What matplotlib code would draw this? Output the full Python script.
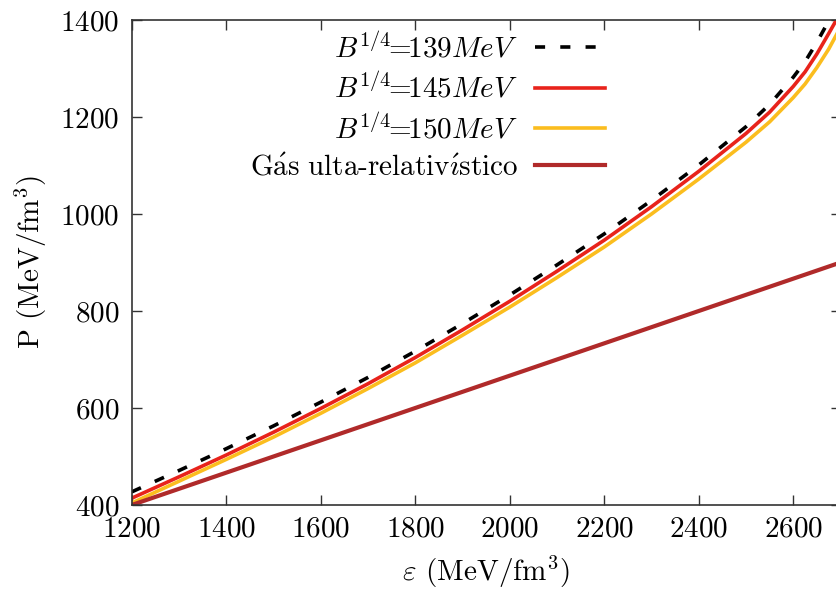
import matplotlib
matplotlib.use("Agg")
import matplotlib.pyplot as plt

plt.rcParams['font.family'] = 'serif'
plt.rcParams['font.serif'] = ['cmr10']
plt.rcParams['mathtext.fontset'] = 'cm'
plt.rcParams['axes.formatter.use_mathtext'] = True

# Energy density (MeV/fm^3)
eps_grid = [1200, 1300, 1400, 1500, 1600, 1700, 1800, 1900, 2000, 2100,
            2200, 2300, 2400, 2500, 2550, 2600, 2625, 2650, 2675, 2700]
# Pressure (MeV/fm^3)
p_139 = [427, 471, 516, 563, 612, 663, 717, 774, 833, 895,
         959, 1028, 1101, 1180, 1226, 1282, 1314, 1354, 1398, 1445]
p_145 = [414, 458, 503, 550, 599, 650, 704, 761, 820, 882,
         946, 1015, 1088, 1166, 1210, 1263, 1293, 1330, 1372, 1415]
p_150 = [404, 449, 494, 540, 589, 640, 693, 750, 808, 869,
         932, 1000, 1072, 1148, 1190, 1240, 1268, 1302, 1340, 1385]
eps_ur = [1200, 1800, 2400, 2700]
p_ur = [400, 600, 800, 900]

labels = [r'$B^{1/4}\!\!=\!\!139MeV$', r'$B^{1/4}\!\!=\!\!145MeV$',
          r'$B^{1/4}\!\!=\!\!150MeV$',
          r'$\mathrm{G\acute{a}s\ ulta}$-$\mathrm{relativ\acute{\imath}stico}$']

fig = plt.figure(figsize=(8.37, 5.97), dpi=100)
ax = fig.add_axes([131.7/837, 92/597, (840.5-131.7)/837, (505-20)/597])

lw = 2.6
ax.plot(eps_grid, p_139, color='black', lw=lw, dashes=(2.8, 4.2), label=labels[0])
ax.plot(eps_grid, p_145, color='#e8231b', lw=lw, label=labels[1])
ax.plot(eps_grid, p_150, color='#fbbd1e', lw=lw, label=labels[2])
ax.plot(eps_ur, p_ur, color='#b02a2a', lw=lw + 0.4, label=labels[3])

ax.set_xlim(1200, 2700)
ax.set_ylim(400, 1400)
ax.set_xticks(range(1200, 2701, 200))
ax.set_yticks(range(400, 1401, 200))
ax.tick_params(direction='in', length=7, width=1, top=True, right=True,
               labelsize=21, colors='#333333', labelcolor='black')
ax.tick_params(axis='x', pad=8)
ax.tick_params(axis='y', pad=9)
for s in ax.spines.values():
    s.set_color('#333333')
    s.set_linewidth(1.2)

ax.set_xlabel(r'$\varepsilon$ (MeV/fm$^3$)', fontsize=21, labelpad=8)
ax.set_ylabel(r'P (MeV/fm$^3$)', fontsize=21, labelpad=8)

ax.legend(loc='upper right', bbox_to_anchor=(0.668, 0.975), frameon=False,
          markerfirst=False, fontsize=21, handlelength=2.4, handletextpad=0.6,
          labelspacing=0.32, borderaxespad=0, borderpad=0)

fig.savefig('out.png', dpi=100)
